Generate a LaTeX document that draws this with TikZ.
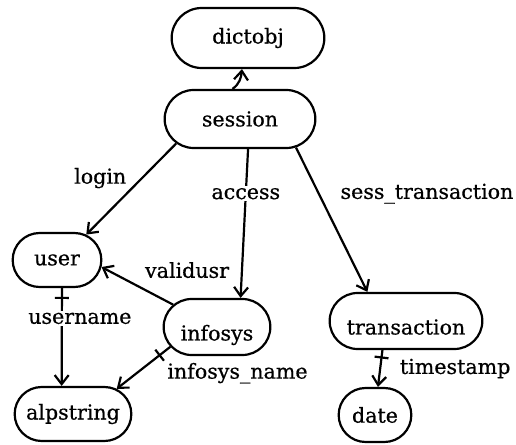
\documentclass[tikz,border=0pt]{standalone}
\usepackage{fontspec}
\setmainfont[FakeBold=0.6]{DejaVu Serif}
\usetikzlibrary{arrows.meta, shapes.misc}

\begin{document}
\begin{tikzpicture}[
    x=0.5pt, y=-0.5pt,
    font=\fontsize{10.3}{12}\selectfont,
    entity/.style={rounded rectangle, draw, line width=1.1pt, minimum height=28pt},
    lowered/.style={text height=2.6ex, text depth=0pt},
    rel/.style={-{Straight Barb[length=4.5pt, width=7pt]}, line width=1.1pt},
    tick/.style={sloped, draw, line width=1.1pt, minimum width=0pt, minimum height=7pt, inner sep=0pt}
  ]
  \useasboundingbox (0,0) rectangle (516,445);

  % entities
  \node[entity, minimum width=83pt, minimum height=30pt] (dictobj) at (248,38) {dictobj};
  \node[entity, minimum width=82pt, minimum height=29pt] (session) at (240,119) {session};
  \node[entity, minimum width=51pt, minimum height=27pt] (user) at (57,260) {user};
  \node[entity, lowered, minimum width=60pt] (infosys) at (217,327) {infosys};
  \node[entity, lowered, minimum width=83pt] (transaction) at (406,321) {transaction};
  \node[entity, minimum width=43pt, minimum height=27pt] (date) at (375,415) {date};
  \node[entity, minimum width=65pt, minimum height=27pt] (alpstring) at (73,414) {alpstring};

  % relations
  \draw[rel] (session.104) to[out=35, in=265] (dictobj.259);
  \draw[rel] (session.201) -- node[pos=0.38, left=4pt] {login} (user.41);
  \draw[rel] (session.285) -- node[pos=0.3, fill=white, inner sep=1pt] {access} (infosys.51);
  \draw[rel] (session.333) -- node[pos=0.32, right=7pt] {sess\_transaction} (transaction.143);
  \draw[rel] (infosys.153) -- node[pos=0.5, anchor=south west] {validusr} (user.351);
  \draw[rel] (user.280) -- node[tick, pos=0.1] {}
    node[pos=0.31, fill=white, inner sep=1pt, xshift=9pt] {username} (alpstring.112);
  \draw[rel] (infosys.203) -- node[tick, pos=0.2] {}
    node[pos=0.2, below right] {infosys\_name} (alpstring.30);
  \draw[rel] (transaction.231) -- node[tick, pos=0.2] {}
    node[pos=0.5, right=6pt] {timestamp} (date.84);
\end{tikzpicture}
\end{document}
